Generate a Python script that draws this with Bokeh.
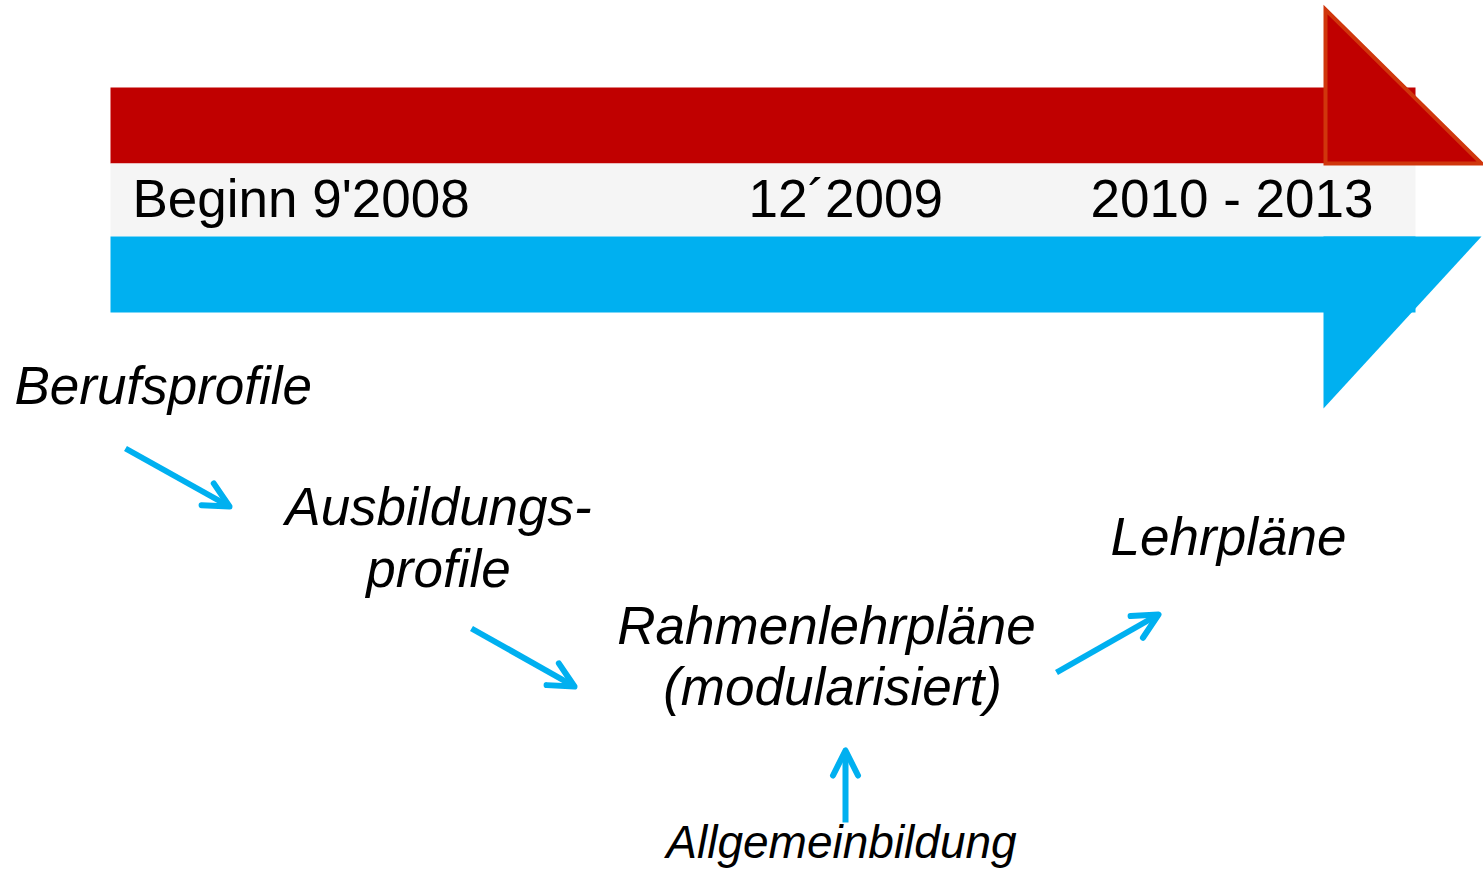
from bokeh.plotting import figure
from bokeh.models import Range1d, ColumnDataSource, Arrow, OpenHead
from bokeh.core.properties import value
from bokeh.embed import file_html
from bokeh.resources import INLINE

RED = "#C00000"
RED_EDGE = "#D0360C"
BLUE = "#00B0F0"
BAND = "#F5F5F5"
FONT = "Liberation Sans"

# Timeline labels (screen-pixel coordinates, y downwards, baseline positions)
timeline_labels = ["Beginn 9'2008", "12\u00b42009", "2010 - 2013"]
timeline_x = [132, 748, 1090]
timeline_y = [217, 217, 217]

# Process step labels (italic, centred)
step_labels = ["Ausbildungs-", "profile", "Rahmenlehrpl\u00e4ne", "(modularisiert)", "Lehrpl\u00e4ne"]
step_x = [438, 438, 826, 832, 1228]
step_y = [525, 587, 644, 705, 555]

first_label = ["Berufsprofile"]
first_x = [14]
first_y = [404]

bottom_label = ["Allgemeinbildung"]
bottom_x = [841]
bottom_y = [858]

# Bars: red, band, blue
bar_left = [110, 110, 110]
bar_right = [1415, 1415, 1415]
bar_top = [87, 163, 236]
bar_bottom = [163, 236, 312]
bar_colors = [RED, BAND, BLUE]

# Arrow heads
red_head_x = [1325, 1325, 1481]
red_head_y = [9, 163, 163]
blue_head_x = [1323, 1481, 1323]
blue_head_y = [236, 236, 408]

# Connector arrows
arrow_x0 = [125, 471, 1056, 845]
arrow_y0 = [448, 628, 672, 822]
arrow_x1 = [229, 574, 1158, 845]
arrow_y1 = [506, 686, 614, 750]

BIG = 53
SMALL = 46
# renderer places the alphabetic baseline lower than requested; compensate
shift_big = 0.36 * BIG
shift_small = 0.36 * SMALL

W, H = 1483, 875
p = figure(width=W, height=H, x_range=Range1d(0, W), y_range=Range1d(H, 0),
           output_backend="svg", toolbar_location=None, min_border=0)
p.axis.visible = False
p.grid.visible = False
p.outline_line_color = None
p.background_fill_color = "white"

p.quad(left=bar_left, right=bar_right, top=bar_top, bottom=bar_bottom,
       fill_color=bar_colors, line_color=None)
p.patch(blue_head_x, blue_head_y, fill_color=BLUE, line_color=None)
p.patch(red_head_x, red_head_y, fill_color=RED, line_color=RED_EDGE, line_width=4,
        line_join="miter")

p.text(x=timeline_x, y=[v - shift_big for v in timeline_y], text=timeline_labels,
       text_font=value(FONT), text_font_size=value(f"{BIG}px"), text_color="black",
       text_align="left", text_baseline="alphabetic")
p.text(x=first_x, y=[v - shift_big for v in first_y], text=first_label, text_font=value(FONT),
       text_font_size=value(f"{BIG}px"), text_font_style="italic", text_color="black",
       text_align="left", text_baseline="alphabetic")
p.text(x=step_x, y=[v - shift_big for v in step_y], text=step_labels, text_font=value(FONT),
       text_font_size=value(f"{BIG}px"), text_font_style="italic", text_color="black",
       text_align="center", text_baseline="alphabetic")
p.text(x=bottom_x, y=[v - shift_small for v in bottom_y], text=bottom_label,
       text_font=value(FONT), text_font_size=value(f"{SMALL}px"), text_font_style="italic",
       text_color="black", text_align="center", text_baseline="alphabetic")

src = ColumnDataSource(dict(x0=arrow_x0, y0=arrow_y0, x1=arrow_x1, y1=arrow_y1))
p.add_layout(Arrow(end=OpenHead(size=25, line_color=BLUE, line_width=6, line_cap="round",
                                line_join="round"),
                   x_start="x0", y_start="y0", x_end="x1", y_end="y1", source=src,
                   line_color=BLUE, line_width=6))

open("out.html", "w").write(file_html(p, INLINE))
